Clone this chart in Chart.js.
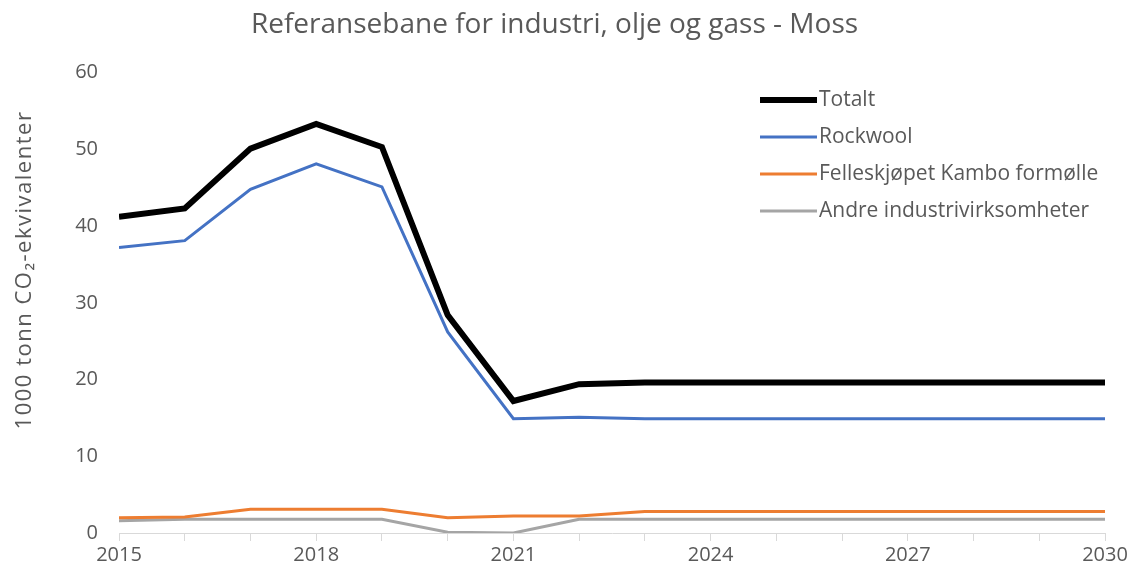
<!DOCTYPE html>
<html>
<head>
<meta charset="utf-8">
<script src="https://cdn.jsdelivr.net/npm/chart.js@4/dist/chart.umd.min.js"></script>
<style>
  html, body { margin: 0; padding: 0; background: #fff; }
  .chart { width: 1134px; height: 575px; }
</style>
</head>
<body>
<div class="chart"><canvas></canvas></div>
<script>
const years = [2015, 2016, 2017, 2018, 2019, 2020, 2021, 2022, 2023, 2024, 2025, 2026, 2027, 2028, 2029, 2030]
const totalt = [41.2, 42.3, 50.1, 53.3, 50.3, 28.4, 17.2, 19.4, 19.6, 19.6, 19.6, 19.6, 19.6, 19.6, 19.6, 19.6]
const rockwool = [37.2, 38.1, 44.8, 48.1, 45.1, 26.2, 14.9, 15.1, 14.9, 14.9, 14.9, 14.9, 14.9, 14.9, 14.9, 14.9]
const felleskjopet = [2.0, 2.1, 3.1, 3.1, 3.1, 2.0, 2.2, 2.2, 2.8, 2.8, 2.8, 2.8, 2.8, 2.8, 2.8, 2.8]
const andre = [1.6, 1.8, 1.8, 1.8, 1.8, 0.1, 0.0, 1.8, 1.8, 1.8, 1.8, 1.8, 1.8, 1.8, 1.8, 1.8]
const seriesNames = ['Totalt', 'Rockwool', 'Felleskjøpet Kambo formølle', 'Andre industrivirksomheter']
const yTicks = [0, 10, 20, 30, 40, 50, 60]
const yTitle = '1000 tonn CO₂-ekvivalenter'

const canvas = document.querySelector('.chart canvas')
const canvasCtx = canvas.getContext('2d')
const textColor = '#595959'
const fontFamily = "'Open Sans', sans-serif"

function points(values) {
    return values.map((v, i) => ({ x: years[i], y: v }))
}

// legend inside the plot area (top right) + rotated y axis title
const extras = {
    id: 'extras',
    afterDraw(chart) {
        const ctx = chart.ctx
        const x0 = 760, y0 = 100, rowGap = 37
        ctx.save()
        ctx.font = '21px ' + fontFamily
        ctx.textBaseline = 'middle'
        chart.data.datasets.forEach((ds, i) => {
            const y = y0 + i * rowGap
            ctx.strokeStyle = ds.borderColor
            ctx.lineWidth = ds.borderWidth
            ctx.beginPath()
            ctx.moveTo(x0, y)
            ctx.lineTo(x0 + 57, y)
            ctx.stroke()
            ctx.fillStyle = textColor
            ctx.fillText(ds.label, x0 + 59, y)
        })
        ctx.restore()

        ctx.save()
        ctx.translate(25, 270)
        ctx.rotate(-Math.PI / 2)
        ctx.font = '22px ' + fontFamily
        ctx.letterSpacing = '1.5px'
        ctx.fillStyle = textColor
        ctx.textAlign = 'center'
        ctx.textBaseline = 'middle'
        ctx.fillText(yTitle, 0, 0)
        ctx.restore()
    }
}

var myChart = new Chart(canvasCtx, {
    type: 'line',
    data: {
        datasets: [
            { label: seriesNames[0], data: points(totalt), borderColor: '#000000', borderWidth: 6 },
            { label: seriesNames[1], data: points(rockwool), borderColor: '#4472C4', borderWidth: 3 },
            { label: seriesNames[2], data: points(felleskjopet), borderColor: '#ED7D31', borderWidth: 3 },
            { label: seriesNames[3], data: points(andre), borderColor: '#A5A5A5', borderWidth: 3 }
        ]
    },
    options: {
        responsive: true,
        maintainAspectRatio: false,
        animation: false,
        elements: {
            point: { radius: 0 },
            line: { tension: 0, borderCapStyle: 'butt', borderJoinStyle: 'miter' }
        },
        layout: { padding: { left: 4, right: 29, top: 0, bottom: 2 } },
        plugins: {
            legend: { display: false },
            tooltip: { enabled: false },
            title: {
                display: true,
                text: 'Referansebane for industri, olje og gass - Moss',
                color: textColor,
                font: { family: fontFamily, size: 28, weight: 'normal' },
                padding: { top: 8, bottom: 31 }
            }
        },
        scales: {
            x: {
                type: 'linear',
                min: years[0],
                max: years[years.length - 1],
                afterFit: s => { s.height = 40 },
                grid: {
                    drawOnChartArea: false,
                    drawTicks: true,
                    tickLength: 8,
                    color: '#d9d9d9'
                },
                border: { color: '#d9d9d9', width: 1 },
                ticks: {
                    stepSize: 1,
                    autoSkip: false,
                    maxRotation: 0,
                    color: textColor,
                    font: { family: fontFamily, size: 20 },
                    padding: 2,
                    callback: v => ((v - years[0]) % 3 === 0 ? String(v) : '')
                }
            },
            y: {
                min: yTicks[0],
                max: yTicks[yTicks.length - 1],
                afterFit: s => { s.width = 115 },
                afterBuildTicks: s => { s.ticks = yTicks.map(v => ({ value: v })) },
                grid: { display: false },
                border: { display: false },
                ticks: {
                    color: textColor,
                    font: { family: fontFamily, size: 20 },
                    padding: 13
                }
            }
        }
    },
    plugins: [extras]
})
</script>
</body>
</html>
